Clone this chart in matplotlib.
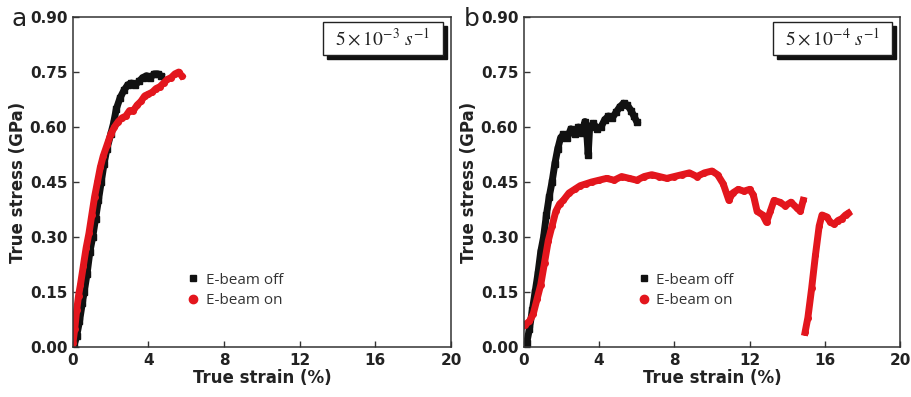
import matplotlib.pyplot as plt
from matplotlib.lines import Line2D
from matplotlib.patches import Rectangle

# panel a : 5e-3 /s
a_off_x = [0.05, 0.2, 0.35, 0.5, 0.6, 0.75, 0.9, 1.05, 1.2, 1.35, 1.5, 1.65, 1.8, 2.0, 2.15, 2.3,
           2.5, 2.7, 2.9, 3.1, 3.3, 3.5, 3.7, 3.9, 4.1, 4.3, 4.5, 4.65]
a_off_y = [0.0, 0.03, 0.07, 0.12, 0.15, 0.2, 0.26, 0.3, 0.35, 0.4, 0.45, 0.5, 0.54, 0.58, 0.61, 0.65,
           0.68, 0.70, 0.715, 0.72, 0.715, 0.725, 0.735, 0.74, 0.735, 0.745, 0.745, 0.74]
a_on_x = [0.0, 0.1, 0.2, 0.3, 0.4, 0.55, 0.7, 0.85, 1.0, 1.15, 1.3, 1.45, 1.6, 1.8, 2.0, 2.2, 2.4,
          2.6, 2.8, 3.0, 3.2, 3.4, 3.6, 3.8, 4.0, 4.2, 4.4, 4.6, 4.8, 5.0, 5.2, 5.4, 5.6, 5.75]
a_on_y = [0.01, 0.05, 0.1, 0.14, 0.17, 0.22, 0.27, 0.31, 0.36, 0.41, 0.45, 0.49, 0.52, 0.55, 0.58,
          0.60, 0.615, 0.625, 0.63, 0.645, 0.645, 0.66, 0.67, 0.685, 0.69, 0.695, 0.705, 0.71, 0.72,
          0.73, 0.735, 0.745, 0.75, 0.74]

# panel b : 5e-4 /s
b_off_x = [0.15, 0.3, 0.45, 0.6, 0.75, 0.9, 1.05, 1.2, 1.35, 1.5, 1.65, 1.8, 1.95, 2.1, 2.3, 2.5,
           2.7, 2.9, 3.1, 3.25, 3.35, 3.42, 3.5, 3.7, 3.9, 4.1, 4.3, 4.5, 4.7, 4.9, 5.1, 5.3, 5.5,
           5.7, 5.85, 6.0]
b_off_y = [0.01, 0.05, 0.1, 0.15, 0.2, 0.26, 0.3, 0.36, 0.41, 0.45, 0.5, 0.54, 0.57, 0.58, 0.57,
           0.595, 0.58, 0.60, 0.585, 0.615, 0.58, 0.525, 0.60, 0.61, 0.595, 0.60, 0.62, 0.63, 0.625,
           0.64, 0.655, 0.665, 0.66, 0.645, 0.63, 0.615]
b_on1_x = [0.05, 0.3, 0.5, 0.7, 0.9, 1.1, 1.3, 1.5, 1.7, 1.9, 2.1, 2.4, 2.7, 3.0, 3.3, 3.6, 4.0,
           4.4, 4.8, 5.2, 5.6, 6.0, 6.4, 6.8, 7.2, 7.6, 8.0, 8.4, 8.8, 9.2, 9.6, 10.0, 10.3, 10.6,
           10.9, 11.1, 11.4, 11.7, 12.0, 12.2, 12.4, 12.7, 12.9, 13.1, 13.3, 13.6, 13.9, 14.2,
           14.5, 14.7, 14.85]
b_on1_y = [0.06, 0.07, 0.09, 0.13, 0.17, 0.23, 0.29, 0.33, 0.37, 0.39, 0.40, 0.42, 0.43, 0.44,
           0.445, 0.45, 0.455, 0.46, 0.455, 0.465, 0.46, 0.455, 0.465, 0.47, 0.465, 0.46, 0.465,
           0.47, 0.475, 0.465, 0.475, 0.48, 0.47, 0.445, 0.40, 0.42, 0.43, 0.425, 0.43, 0.415,
           0.37, 0.36, 0.34, 0.37, 0.40, 0.395, 0.385, 0.395, 0.38, 0.37, 0.40]
b_on2_x = [14.95, 15.1, 15.3, 15.5, 15.7, 15.85, 16.1, 16.3, 16.5, 16.7, 16.9, 17.1, 17.25]
b_on2_y = [0.04, 0.08, 0.16, 0.25, 0.33, 0.36, 0.355, 0.34, 0.335, 0.345, 0.35, 0.36, 0.365]

xticks = [0, 4, 8, 12, 16, 20]
yticks = [0.00, 0.15, 0.30, 0.45, 0.60, 0.75, 0.90]

black = '#111111'
red = '#e3161d'

plt.rcParams['mathtext.fontset'] = 'stix'
fig = plt.figure(figsize=(9.11, 3.97), dpi=100)
ax1 = fig.add_axes([0.080, 0.126, 0.415, 0.831])
ax2 = fig.add_axes([0.575, 0.126, 0.413, 0.831])


def draw(ax, off, ons, rate, letter, lx):
    ax.plot(off[0], off[1], color=black, lw=5, marker='s', ms=4, solid_joinstyle='round')
    for x, y in ons:
        ax.plot(x, y, color=red, lw=5, marker='o', ms=4, solid_joinstyle='round')
    ax.set_xlim(0, 20)
    ax.set_ylim(0, 0.9)
    ax.set_xticks(xticks)
    ax.set_yticks(yticks)
    ax.set_xticklabels([str(t) for t in xticks])
    ax.set_yticklabels(['%.2f' % t for t in yticks])
    ax.tick_params(direction='in', length=4, width=1, colors='#333333', labelsize=11,
                   labelcolor='#222222', pad=4)
    for lab in ax.get_xticklabels() + ax.get_yticklabels():
        lab.set_fontweight('bold')
    for s in ax.spines.values():
        s.set_color('#333333')
        s.set_linewidth(1.1)
    ax.set_xlabel('True strain (%)', fontsize=12, fontweight='bold', labelpad=1, color='#222222')
    ax.set_ylabel('True stress (GPa)', fontsize=12, fontweight='bold', labelpad=2, color='#222222')

    handles = [Line2D([], [], color=black, marker='s', ls='none', ms=5),
               Line2D([], [], color=red, marker='o', ls='none', ms=6)]
    ax.legend(handles, ['E-beam off', 'E-beam on'], loc='center left', bbox_to_anchor=(0.27, 0.172),
              frameon=False, handlelength=0.6, handletextpad=0.5, labelspacing=0.35,
              labelcolor='#333333', prop={'family': 'Open Sans', 'size': 11})

    # rate label with drop shadow
    ax.add_patch(Rectangle((0.672, 0.873), 0.318, 0.1, transform=ax.transAxes,
                           fc=black, ec=black, zorder=5))
    ax.add_patch(Rectangle((0.661, 0.885), 0.318, 0.1, transform=ax.transAxes,
                           fc='white', ec='#222222', lw=1, zorder=6))
    ax.text(0.82, 0.935, rate, transform=ax.transAxes, ha='center', va='center', fontsize=14,
            color='#222222', zorder=7)
    fig.text(lx, 0.935, letter, fontsize=18, ha='left', va='baseline', color='#222222')


draw(ax1, (a_off_x, a_off_y), [(a_on_x, a_on_y)], r'$5\times10^{-3}\ s^{-1}$', 'a', 0.013)
draw(ax2, (b_off_x, b_off_y), [(b_on1_x, b_on1_y), (b_on2_x, b_on2_y)],
     r'$5\times10^{-4}\ s^{-1}$', 'b', 0.509)

fig.savefig('out.png', dpi=100)
